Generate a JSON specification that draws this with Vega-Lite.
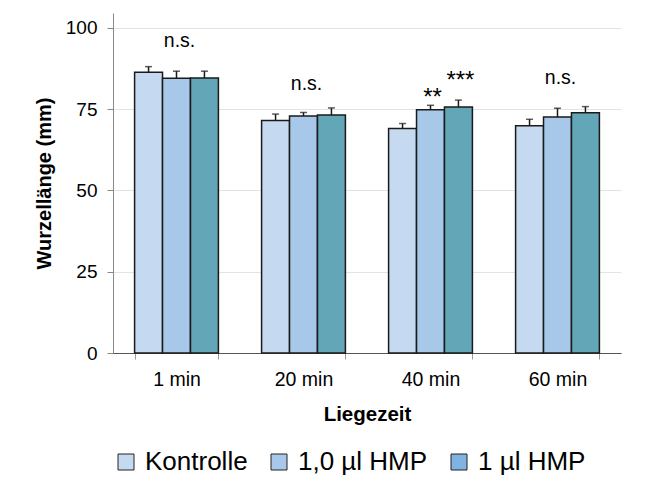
{
  "$schema": "https://vega.github.io/schema/vega-lite/v6.json",
  "width": 508,
  "height": 340,
  "padding": {"left": 34, "top": 13, "right": 20, "bottom": 5},
  "background": "white",
  "config": {
    "font": "Liberation Sans",
    "view": {"stroke": null},
    "axis": {"labelFont": "Liberation Sans", "titleFont": "Liberation Sans", "labelColor": "black", "titleColor": "black"}
  },
  "datasets": {
    "bars": [
      {"time": "1 min", "group": "Kontrolle", "value": 86.4, "hi": 88.1},
      {"time": "1 min", "group": "1,0 µl HMP", "value": 84.5, "hi": 86.7},
      {"time": "1 min", "group": "1 µl HMP", "value": 84.6, "hi": 86.7},
      {"time": "20 min", "group": "Kontrolle", "value": 71.5, "hi": 73.5},
      {"time": "20 min", "group": "1,0 µl HMP", "value": 72.9, "hi": 74.0},
      {"time": "20 min", "group": "1 µl HMP", "value": 73.2, "hi": 75.4},
      {"time": "40 min", "group": "Kontrolle", "value": 69.1, "hi": 70.6},
      {"time": "40 min", "group": "1,0 µl HMP", "value": 74.8, "hi": 76.2},
      {"time": "40 min", "group": "1 µl HMP", "value": 75.7, "hi": 77.8},
      {"time": "60 min", "group": "Kontrolle", "value": 69.9, "hi": 71.9},
      {"time": "60 min", "group": "1,0 µl HMP", "value": 72.6, "hi": 75.3},
      {"time": "60 min", "group": "1 µl HMP", "value": 73.9, "hi": 75.8}
    ],
    "ns": [
      {"time": "1 min", "group": "1,0 µl HMP", "label": "n.s.", "y": 94.2},
      {"time": "20 min", "group": "1,0 µl HMP", "label": "n.s.", "y": 80.9},
      {"time": "60 min", "group": "1,0 µl HMP", "label": "n.s.", "y": 82.8}
    ],
    "stars": [
      {"time": "40 min", "group": "1,0 µl HMP", "label": "**", "y": 76.2},
      {"time": "40 min", "group": "1 µl HMP", "label": "***", "y": 81.4}
    ]
  },
  "encoding": {
    "x": {
      "field": "time", "type": "nominal",
      "sort": ["1 min", "20 min", "40 min", "60 min"],
      "scale": {"paddingInner": 0.34, "paddingOuter": 0.17},
      "axis": {
        "title": "Liegezeit", "labelAngle": 0, "labelFontSize": 19.5, "titleFontSize": 20.5, "titleFontWeight": "bold",
        "tickBand": "extent", "tickSize": 6, "tickColor": "#999999", "domainColor": "#555555",
        "labelPadding": 11, "titlePadding": 16
      }
    },
    "xOffset": {"field": "group", "type": "nominal", "sort": ["Kontrolle", "1,0 µl HMP", "1 µl HMP"], "scale": {"paddingInner": 0, "paddingOuter": 0}}
  },
  "layer": [
    {
      "data": {"name": "bars"},
      "mark": {"type": "square", "filled": true, "size": 0},
      "encoding": {
        "y": {"field": "value", "type": "quantitative"},
        "color": {
          "field": "group", "type": "nominal",
          "sort": ["Kontrolle", "1,0 µl HMP", "1 µl HMP"],
          "scale": {"domain": ["Kontrolle", "1,0 µl HMP", "1 µl HMP"], "range": ["#C5DAF0", "#A7C8E9", "#80B3E2"]},
          "legend": {
            "title": null, "orient": "bottom", "direction": "horizontal",
            "symbolType": "square", "symbolSize": 256, "symbolStrokeColor": "#222222", "symbolStrokeWidth": 1, "symbolOpacity": 1,
            "labelFontSize": 26, "labelFont": "Liberation Sans", "labelColor": "black", "labelOffset": 6, "columnPadding": 18, "offset": 24
          }
        }
      }
    },
    {
      "data": {"name": "bars"},
      "mark": {"type": "bar", "stroke": "#1a1a1a", "strokeWidth": 1.5},
      "encoding": {
        "y": {
          "field": "value", "type": "quantitative",
          "scale": {"domain": [0, 104.6], "nice": false},
          "axis": {
            "title": "Wurzellänge (mm)", "values": [0, 25, 50, 75, 100], "labelFontSize": 19, "titleFontSize": 20, "titleFontWeight": "bold",
            "grid": true, "gridColor": "#e3e3e3", "domainColor": "#888888", "tickColor": "#888888", "tickSize": 6,
            "labelPadding": 10, "titlePadding": 11
          }
        },
        "fill": {
          "field": "group", "type": "nominal",
          "scale": {"domain": ["Kontrolle", "1,0 µl HMP", "1 µl HMP"], "range": ["#C5DAF0", "#A7C8E9", "#62A6B8"]},
          "legend": null
        }
      }
    },
    {
      "data": {"name": "bars"},
      "mark": {"type": "rule", "color": "#1a1a1a", "strokeWidth": 1.5},
      "encoding": {
        "y": {"field": "value", "type": "quantitative"},
        "y2": {"field": "hi"}
      }
    },
    {
      "data": {"name": "bars"},
      "mark": {"type": "tick", "color": "#1a1a1a", "size": 7, "thickness": 1.5, "orient": "horizontal"},
      "encoding": {
        "y": {"field": "hi", "type": "quantitative"}
      }
    },
    {
      "data": {"name": "ns"},
      "mark": {"type": "text", "fontSize": 19.5, "baseline": "alphabetic", "dx": 3, "color": "black"},
      "encoding": {
        "y": {"field": "y", "type": "quantitative"},
        "text": {"field": "label"}
      }
    },
    {
      "data": {"name": "stars"},
      "mark": {"type": "text", "fontSize": 24, "baseline": "alphabetic", "dx": 2, "color": "black"},
      "encoding": {
        "y": {"field": "y", "type": "quantitative"},
        "text": {"field": "label"}
      }
    }
  ]
}
